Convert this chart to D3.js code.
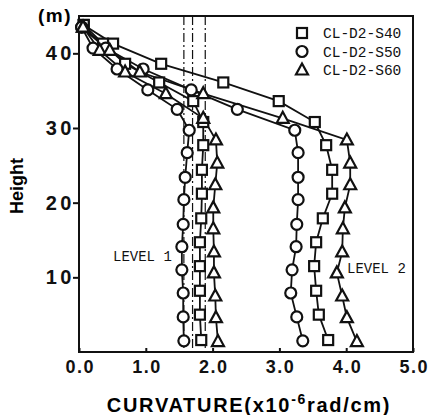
<!DOCTYPE html>
<html>
<head>
<meta charset="utf-8">
<script src="https://cdn.jsdelivr.net/npm/d3@7"></script>
<style>
  html, body { margin: 0; padding: 0; background: #fff; }
  svg { display: block; }
</style>
</head>
<body>
<svg id="chart" width="429" height="415"></svg>
<script>
// ---- data ----
const xTicks = [0, 1, 2, 3, 4, 5];
const yTicks = [10, 20, 30, 40];
const seriesNames = ["CL-D2-S40", "CL-D2-S50", "CL-D2-S60"];
const levelLabels = ["LEVEL 1", "LEVEL 2"];
const refCurvatures = [1.57, 1.70, 1.89];

const heightS40 = [43.8, 41.3, 38.6, 36.1, 33.6, 30.8, 27.7, 24.4, 21.2, 17.9, 14.7, 11.5, 8.2, 5.0, 1.6];
const heightS50 = [43.5, 40.7, 37.9, 35.1, 32.5, 29.7, 26.7, 23.4, 20.4, 17.1, 14.1, 11.0, 7.9, 4.7, 1.5];
const heightS60 = [43.5, 40.4, 37.5, 34.6, 31.3, 28.4, 25.3, 22.4, 19.3, 16.5, 13.4, 10.6, 7.5, 4.6, 1.4];

const s40Level1 = [0.07, 0.36, 0.69, 1.20, 1.71, 1.86, 1.86, 1.84, 1.84, 1.83, 1.81, 1.81, 1.81, 1.81, 1.83];
const s40Level2 = [0.07, 0.51, 1.23, 2.16, 2.99, 3.53, 3.70, 3.79, 3.79, 3.65, 3.55, 3.52, 3.55, 3.59, 3.73];
const s50Level1 = [0.04, 0.21, 0.57, 1.03, 1.47, 1.65, 1.62, 1.59, 1.57, 1.56, 1.54, 1.54, 1.56, 1.56, 1.57];
const s50Level2 = [0.04, 0.40, 0.96, 1.68, 2.37, 3.23, 3.28, 3.28, 3.28, 3.26, 3.25, 3.19, 3.17, 3.26, 3.35];
const s60Level1 = [0.06, 0.31, 0.69, 1.30, 1.86, 2.05, 2.07, 2.04, 2.01, 2.01, 2.02, 2.02, 2.04, 2.05, 2.08];
const s60Level2 = [0.06, 0.46, 0.91, 1.86, 3.05, 4.01, 4.06, 4.06, 3.98, 3.95, 3.94, 3.86, 3.94, 4.01, 4.16];

// ---- build ----
const series = [
  { name: seriesNames[0], shape: "square",   h: heightS40, xs: s40Level1 },
  { name: seriesNames[0], shape: "square",   h: heightS40, xs: s40Level2 },
  { name: seriesNames[1], shape: "circle",   h: heightS50, xs: s50Level1 },
  { name: seriesNames[1], shape: "circle",   h: heightS50, xs: s50Level2 },
  { name: seriesNames[2], shape: "triangle", h: heightS60, xs: s60Level1 },
  { name: seriesNames[2], shape: "triangle", h: heightS60, xs: s60Level2 }
].map(s => ({ ...s, pts: s.xs.map((v, i) => ({ x: v, y: s.h[i] })) }));

const svg = d3.select("#chart");
const L = 79, R = 413, T = 16, B = 352;
const x = d3.scaleLinear().domain([0, 5]).range([L, R]);
const y = d3.scaleLinear().domain([0, 45]).range([B, T]);

const font = "'Liberation Sans', Arial, sans-serif";
const mono = "'Liberation Mono', 'DejaVu Sans Mono', monospace";

// reference dash-dot lines
svg.append("g").selectAll("line").data(refCurvatures).join("line")
  .attr("x1", d => x(d)).attr("x2", d => x(d))
  .attr("y1", T).attr("y2", B)
  .attr("stroke", "#111").attr("stroke-width", 1.2)
  .attr("stroke-dasharray", "9,3,2,3");

// frame
svg.append("rect").attr("x", L).attr("y", T).attr("width", R - L).attr("height", B - T)
  .attr("fill", "none").attr("stroke", "#111").attr("stroke-width", 2);

// axes
const xAxis = svg.append("g").attr("transform", `translate(0,${B})`)
  .call(d3.axisBottom(x).tickValues(xTicks).tickFormat(d3.format(".1f"))
    .tickSizeInner(-4).tickSizeOuter(0).tickPadding(8));
xAxis.select(".domain").remove();
xAxis.selectAll("line").attr("stroke", "#111").attr("stroke-width", 2);
xAxis.selectAll("text").attr("font-family", font).attr("font-size", 18)
  .attr("font-weight", "bold").attr("fill", "#111").attr("letter-spacing", 1.5)
  .attr("dx", 0.7);

const yAxis = svg.append("g").attr("transform", `translate(${L},0)`)
  .call(d3.axisLeft(y).tickValues(yTicks).tickSizeInner(6).tickSizeOuter(0).tickPadding(-2));
yAxis.select(".domain").remove();
yAxis.selectAll("line").attr("stroke", "#111").attr("stroke-width", 2);
yAxis.selectAll("text").attr("font-family", font).attr("font-size", 20)
  .attr("font-weight", "bold").attr("fill", "#111").attr("letter-spacing", 3.5);

// axis titles
svg.append("text").attr("x", 55).attr("y", 22).attr("text-anchor", "middle")
  .attr("font-family", font).attr("font-size", 19).attr("font-weight", "bold")
  .attr("letter-spacing", 1.5).text("(m)");

svg.append("text").attr("transform", "translate(23,186) rotate(-90)")
  .attr("text-anchor", "middle").attr("font-family", font).attr("font-size", 18)
  .attr("font-weight", "bold").text("Height");

const xt = svg.append("text").attr("x", 249).attr("y", 412).attr("text-anchor", "middle")
  .attr("font-family", font).attr("font-size", 20).attr("font-weight", "bold")
  .attr("letter-spacing", 1.7);
xt.append("tspan").text("CURVATURE(x10");
xt.append("tspan").attr("dy", -8).attr("font-size", 14).text("-6");
xt.append("tspan").attr("dy", 8).text("rad/cm)");

// lines
const line = d3.line().x(d => x(d.x)).y(d => y(d.y));
svg.append("g").selectAll("path").data(series).join("path")
  .attr("d", d => line(d.pts)).attr("fill", "none")
  .attr("stroke", "#111").attr("stroke-width", 1.8);

// markers
function drawMarker(g, shape, cx, cy) {
  if (shape === "square") {
    g.append("rect").attr("x", cx - 5).attr("y", cy - 5).attr("width", 10).attr("height", 10);
  } else if (shape === "circle") {
    g.append("circle").attr("cx", cx).attr("cy", cy).attr("r", 5.5);
  } else {
    g.append("path").attr("d", `M${cx},${cy - 6.5}L${cx + 6},${cy + 4.5}L${cx - 6},${cy + 4.5}Z`);
  }
}
const mk = svg.append("g").attr("fill", "#fff").attr("stroke", "#111").attr("stroke-width", 2.2);
series.forEach(s => s.pts.forEach(p => drawMarker(mk, s.shape, x(p.x), y(p.y))));

// legend
const shapes = ["square", "circle", "triangle"];
const lg = svg.append("g");
seriesNames.forEach((n, i) => {
  const yy = 33 + i * 18.5;
  const g = lg.append("g").attr("fill", "#fff").attr("stroke", "#111").attr("stroke-width", 2.2);
  drawMarker(g, shapes[i], 302, yy);
  lg.append("text").attr("x", 323).attr("y", yy + 5).attr("font-family", mono)
    .attr("font-size", 14.5).attr("fill", "#111").text(n);
});

// level labels
svg.append("text").attr("x", 113).attr("y", 261).attr("font-family", mono)
  .attr("font-size", 14).attr("fill", "#111").text(levelLabels[0]);
svg.append("text").attr("x", 347).attr("y", 273).attr("font-family", mono)
  .attr("font-size", 14).attr("fill", "#111").text(levelLabels[1]);
</script>
</body>
</html>
